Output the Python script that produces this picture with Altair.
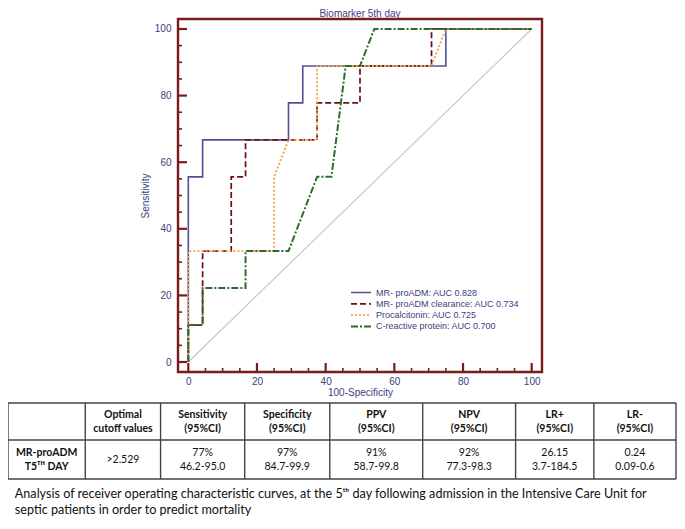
import altair as alt
import pandas as pd

# ---------------- data ----------------
TITLE = "Biomarker 5th day"
X_TITLE = "100-Specificity"
Y_TITLE = "Sensitivity"

SERIES = [
    "MR- proADM: AUC 0.828",
    "MR- proADM clearance: AUC 0.734",
    "Procalcitonin:  AUC 0.725",
    "C-reactive protein: AUC 0.700",
]
S1_X = [0, 0, 4.17, 4.17, 29.17, 29.17, 33.33, 33.33, 75, 75, 100]
S1_Y = [0, 55.6, 55.6, 66.7, 66.7, 77.8, 77.8, 88.9, 88.9, 100, 100]
S2_X = [0, 0, 4.17, 4.17, 12.5, 12.5, 16.67, 16.67, 37.5, 37.5, 50, 50, 70.83, 70.83, 100]
S2_Y = [0, 11.1, 11.1, 33.3, 33.3, 55.6, 55.6, 66.7, 66.7, 77.8, 77.8, 88.9, 88.9, 100, 100]
S3_X = [0, 0, 25, 25, 29.17, 37.5, 37.5, 70.83, 75, 100]
S3_Y = [0, 33.3, 33.3, 55.6, 66.7, 66.7, 88.9, 88.9, 100, 100]
S4_X = [0, 0, 4.17, 4.17, 16.67, 16.67, 29.17, 37.5, 41.67, 45.83, 50, 54.17, 100]
S4_Y = [0, 11.1, 11.1, 22.2, 22.2, 33.3, 33.3, 55.6, 55.6, 88.9, 88.9, 100, 100]
REF_X = [0, 100]
REF_Y = [0, 100]

MAJOR_TICKS = [0, 20, 40, 60, 80, 100]
MINOR_TICKS = [5, 10, 15, 25, 30, 35, 45, 50, 55, 65, 70, 75, 85, 90, 95]

TABLE_HEADER = ["", "Optimal\ncutoff values", "Sensitivity\n(95%CI)", "Specificity\n(95%CI)",
                "PPV\n(95%CI)", "NPV\n(95%CI)", "LR+\n(95%CI)", "LR-\n(95%CI)"]
TABLE_ROW = ["MR-proADM\nT5ᵀᴴ DAY", ">2.529", "77%\n46.2-95.0", "97%\n84.7-99.9",
             "91%\n58.7-99.8", "92%\n77.3-98.3", "26.15\n3.7-184.5", "0.24\n0.09-0.6"]
CAPTION = [
    "Analysis of receiver operating characteristic curves, at the 5ᵗʰ day following admission in the Intensive Care Unit for",
    "septic patients in order to predict mortality",
]

# ---------------- layout / style ----------------
W, H = 669, 509
AX_MIN, AX_MAX = -3, 103
FRAME_L, FRAME_R, FRAME_T, FRAME_B = 170, 534, 11, 364
COL_WIDTHS = [79, 77, 86, 87, 95, 95, 80, 84]
ROW_HEIGHTS = [38, 40]
TABLE_TOP, TABLE_BOTTOM = 395, 471
CAPTION_POS = [93.5, 110]
CAPTION_X = 7
LINE_H = 14

NAVY = "#40407f"
FRAME_RED = "#7a1c1c"
COLORS = ["#50509a", "#6e1212", "#f2a24a", "#2f6a2f"]
DASHES = [[1, 0], [6, 3], [2, 2], [7, 2, 2, 2]]
WIDTHS = [1.6, 2.0, 1.3, 1.8]
FONT = "Liberation Sans"
TFONT = "Lato"

XS = alt.Scale(domain=[AX_MIN, AX_MAX], range=[FRAME_L, FRAME_R], nice=False, zero=False)
YS = alt.Scale(domain=[AX_MIN, AX_MAX], range=[FRAME_B, FRAME_T], nice=False, zero=False)

X_AXIS = alt.Axis(values=MAJOR_TICKS, ticks=False, tickSize=0, domain=False, grid=False,
                  offset=FRAME_B - H, labelPadding=4, labelFont=FONT, labelFontSize=10,
                  labelColor=NAVY, title=X_TITLE, titleFont=FONT, titleFontSize=10,
                  titleFontWeight="normal", titleColor=NAVY, titlePadding=1)
Y_AXIS = alt.Axis(values=MAJOR_TICKS, ticks=False, tickSize=0, domain=False, grid=False,
                  offset=-FRAME_L, labelPadding=7, labelFont=FONT, labelFontSize=10,
                  labelColor=NAVY, title=Y_TITLE, titleFont=FONT, titleFontSize=10,
                  titleFontWeight="normal", titleColor=NAVY, titlePadding=4)

# ---------------- ROC part ----------------
rows = []
for name, xs, ys in zip(SERIES, [S1_X, S2_X, S3_X, S4_X], [S1_Y, S2_Y, S3_Y, S4_Y]):
    for i, (x, y) in enumerate(zip(xs, ys)):
        rows.append({"series": name, "x": x, "y": y, "i": i})
lines_df = pd.DataFrame(rows)

legend = alt.Legend(orient="none", legendX=342, legendY=279, title=None, symbolType="stroke",
                    symbolSize=400, labelFont=FONT, labelFontSize=9, labelColor=NAVY,
                    clipHeight=11, rowPadding=0.3, padding=0, labelOffset=4, labelLimit=300)

lines = alt.Chart(lines_df).mark_line(interpolate="linear").encode(
    x=alt.X("x:Q", scale=XS, axis=X_AXIS),
    y=alt.Y("y:Q", scale=YS, axis=Y_AXIS),
    order=alt.Order("i:Q"),
    color=alt.Color("series:N", scale=alt.Scale(domain=SERIES, range=COLORS), legend=legend),
    strokeDash=alt.StrokeDash("series:N", scale=alt.Scale(domain=SERIES, range=DASHES), legend=legend),
    strokeWidth=alt.StrokeWidth("series:N", scale=alt.Scale(domain=SERIES, range=WIDTHS), legend=legend),
)

diag = alt.Chart(pd.DataFrame({"x": REF_X, "y": REF_Y})).mark_line(
    color="#c4c4c4", strokeWidth=1.1).encode(
    x=alt.X("x:Q", scale=XS, axis=X_AXIS),
    y=alt.Y("y:Q", scale=YS, axis=Y_AXIS),
)

frame = alt.Chart(pd.DataFrame({"x0": [AX_MIN], "x1": [AX_MAX], "y0": [AX_MIN], "y1": [AX_MAX]})).mark_rect(
    filled=False, stroke=FRAME_RED, strokeWidth=2.4).encode(
    x=alt.X("x0:Q", scale=XS, axis=X_AXIS), x2="x1:Q",
    y=alt.Y("y0:Q", scale=YS, axis=Y_AXIS), y2="y1:Q",
)


def xticks(vals, length, width):
    df = pd.DataFrame({"v": vals, "base": [AX_MIN] * len(vals)})
    return alt.Chart(df).mark_rule(color=FRAME_RED, strokeWidth=width, y2Offset=-length).encode(
        x=alt.X("v:Q", scale=XS, axis=X_AXIS),
        y=alt.Y("base:Q", scale=YS, axis=Y_AXIS), y2="base:Q")


def yticks(vals, length, width):
    df = pd.DataFrame({"v": vals, "base": [AX_MIN] * len(vals)})
    return alt.Chart(df).mark_rule(color=FRAME_RED, strokeWidth=width, x2Offset=length).encode(
        y=alt.Y("v:Q", scale=YS, axis=Y_AXIS),
        x=alt.X("base:Q", scale=XS, axis=X_AXIS), x2="base:Q")


title = alt.Chart(pd.DataFrame({"x": [50], "y": [AX_MAX + 3], "t": [TITLE]})).mark_text(
    font=FONT, fontSize=10, color=NAVY, baseline="top", align="center").encode(
    x=alt.X("x:Q", scale=XS, axis=X_AXIS), y=alt.Y("y:Q", scale=YS, axis=Y_AXIS), text="t:N")

roc = alt.layer(diag, lines, frame,
                xticks(MAJOR_TICKS, 9, 2.2), xticks(MINOR_TICKS, 4, 1.6),
                yticks(MAJOR_TICKS, 9, 2.2), yticks(MINOR_TICKS, 4, 1.6), title)

# ---------------- table part ----------------
col_edges = [0]
for w in COL_WIDTHS:
    col_edges.append(col_edges[-1] + w)
row_edges = [0]
for h in ROW_HEIGHTS:
    row_edges.append(row_edges[-1] + h)
TW, TH = col_edges[-1], row_edges[-1]
UNITS_PER_PX = TH / (TABLE_BOTTOM - TABLE_TOP)

TX = alt.Scale(domain=[0, TW], range=[0, W - 1], nice=False, zero=False)
TY = alt.Scale(domain=[0, TH], range=[TABLE_TOP, TABLE_BOTTOM], nice=False, zero=False)

hl = pd.DataFrame({"y": row_edges, "x0": [0] * len(row_edges), "x1": [TW] * len(row_edges)})
vl = pd.DataFrame({"x": col_edges, "y0": [0] * len(col_edges), "y1": [TH] * len(col_edges)})

hrules = alt.Chart(hl).mark_rule(color="#444444", strokeWidth=1.4).encode(
    x=alt.X("x0:Q", scale=TX, axis=None), x2="x1:Q", y=alt.Y("y:Q", scale=TY, axis=None))
vrules = alt.Chart(vl).mark_rule(color="#444444", strokeWidth=1.4).encode(
    x=alt.X("x:Q", scale=TX, axis=None), y=alt.Y("y0:Q", scale=TY, axis=None), y2="y1:Q")

cells = []
for r, row in enumerate([TABLE_HEADER, TABLE_ROW]):
    for c, txt in enumerate(row):
        nl = txt.count("\n") + 1
        cells.append({
            "cx": (col_edges[c] + col_edges[c + 1]) / 2,
            "cy": (row_edges[r] + row_edges[r + 1]) / 2 - (nl - 1) * LINE_H / 2 * UNITS_PER_PX,
            "t": txt,
            "bold": (r == 0) or (c == 0),
        })
cells_df = pd.DataFrame(cells)

cell_base = alt.Chart(cells_df).encode(
    x=alt.X("cx:Q", scale=TX, axis=None), y=alt.Y("cy:Q", scale=TY, axis=None), text="t:N")
bold_cells = cell_base.transform_filter("datum.bold").mark_text(
    font=TFONT, fontSize=10.5, fontWeight="bold", lineBreak="\n", lineHeight=LINE_H,
    baseline="middle", align="center", color="#111111")
plain_cells = cell_base.transform_filter("!datum.bold").mark_text(
    font=TFONT, fontSize=10.5, lineBreak="\n", lineHeight=LINE_H,
    baseline="middle", align="center", color="#111111")

cap_df = pd.DataFrame({"x": [CAPTION_X] * len(CAPTION), "y": CAPTION_POS, "t": CAPTION})
caption = alt.Chart(cap_df).mark_text(font=TFONT, fontSize=12.6, align="left",
                                      baseline="middle", color="#111111").encode(
    x=alt.X("x:Q", scale=TX, axis=None), y=alt.Y("y:Q", scale=TY, axis=None), text="t:N")

table = alt.layer(hrules, vrules, bold_cells, plain_cells, caption)

chart = alt.layer(roc, table).resolve_scale(x="independent", y="independent").properties(
    width=W, height=H, autosize=alt.AutoSizeParams(type="none"), padding=0,
    background="white",
).configure_view(stroke=None)

chart.save("out.html", embed_options={"renderer": "svg", "actions": False})
